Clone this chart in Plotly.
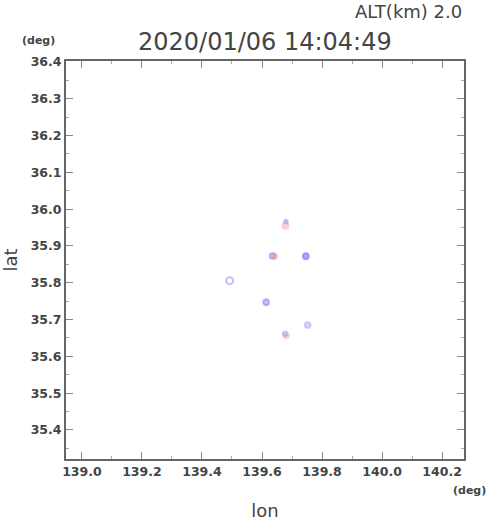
import plotly.graph_objects as go

title_text = "2020/01/06 14:04:49"
alt_text = "ALT(km) 2.0"

blue_lon = [139.680, 139.635, 139.746, 139.492, 139.614, 139.752, 139.677]
blue_lat = [35.966, 35.873, 35.872, 35.806, 35.747, 35.685, 35.661]
blue_alpha = [0.45, 0.5, 0.75, 0.6, 0.55, 0.35, 0.4]
blue_size = [4, 6, 6, 7, 6, 6, 5]
blue_symbol = ["circle", "circle", "circle", "circle-open", "circle", "circle", "circle"]

pink_lon = [139.678, 139.642, 139.681]
pink_lat = [35.955, 35.872, 35.656]
pink_alpha = [0.55, 0.6, 0.5]
pink_size = [8, 7, 7]

x_ticks = [139.0, 139.2, 139.4, 139.6, 139.8, 140.0, 140.2]
y_ticks = [35.4, 35.5, 35.6, 35.7, 35.8, 35.9, 36.0, 36.1, 36.2, 36.3, 36.4]

fig = go.Figure()
fig.add_trace(go.Scatter(
    x=blue_lon, y=blue_lat, mode="markers",
    marker=dict(size=blue_size, symbol=blue_symbol,
                color=[f"rgba(90,90,255,{a})" for a in blue_alpha],
                line=dict(width=1.8, color=[f"rgba(90,90,255,{a})" for a in blue_alpha])),
    showlegend=False, hoverinfo="skip"))
fig.add_trace(go.Scatter(
    x=pink_lon, y=pink_lat, mode="markers",
    marker=dict(size=pink_size, symbol="circle",
                color=[f"rgba(255,130,130,{a})" for a in pink_alpha],
                line=dict(width=0)),
    showlegend=False, hoverinfo="skip"))

axis_common = dict(
    showgrid=False, zeroline=False, showline=True, linecolor="#666", linewidth=2,
    mirror="ticks", ticks="inside", ticklen=7, tickwidth=1, tickcolor="#888",
    tickfont=dict(family="DejaVu Sans", size=12.5, color="#444", weight="bold"),
)
fig.update_xaxes(range=[138.947, 140.273], tickvals=x_ticks,
                 ticktext=[f"{v:.1f}" for v in x_ticks],
                 minor=dict(dtick=0.1, tick0=139.0, ticks="inside", ticklen=3, tickcolor="#aaa", showgrid=False),
                 title=dict(text="lon", font=dict(family="DejaVu Sans", size=18, color="#444"), standoff=30),
                 **axis_common)
fig.update_yaxes(range=[35.321, 36.4027], tickvals=y_ticks,
                 ticktext=[f"{v:.1f}" for v in y_ticks],
                 minor=dict(dtick=0.05, tick0=35.4, ticks="inside", ticklen=3, tickcolor="#aaa", showgrid=False),
                 title=dict(text="lat", font=dict(family="DejaVu Sans", size=18, color="#444"), standoff=12),
                 **axis_common)

fig.update_layout(
    width=490, height=521,
    margin=dict(l=66, r=26, t=61, b=62, autoexpand=False),
    paper_bgcolor="white", plot_bgcolor="white",
)
H = 521 - 61 - 62
W = 490 - 66 - 26
def py(ypix):
    return (521 - 62 - ypix) / H
def px(xpix):
    return (xpix - 66) / W
fig.add_annotation(text=title_text, x=px(265), y=py(42), xref="paper", yref="paper", showarrow=False,
                   font=dict(family="DejaVu Sans", size=24, color="#444"), xanchor="center", yanchor="middle")
fig.add_annotation(text=alt_text, x=px(464), y=py(12), xref="paper", yref="paper", showarrow=False,
                   font=dict(family="DejaVu Sans", size=18, color="#444"), xanchor="right", yanchor="middle")
fig.add_annotation(text="<b>(deg)</b>", x=px(38), y=py(40), xref="paper", yref="paper", showarrow=False,
                   font=dict(family="DejaVu Sans", size=11, color="#444"), xanchor="center", yanchor="middle")
fig.add_annotation(text="<b>(deg)</b>", x=px(488), y=py(491), xref="paper", yref="paper", showarrow=False,
                   font=dict(family="DejaVu Sans", size=11, color="#444"), xanchor="right", yanchor="middle")

fig.write_html("out.html", config={"displayModeBar": False},
               post_script="document.body.style.margin='0';document.body.style.overflow='hidden';")
